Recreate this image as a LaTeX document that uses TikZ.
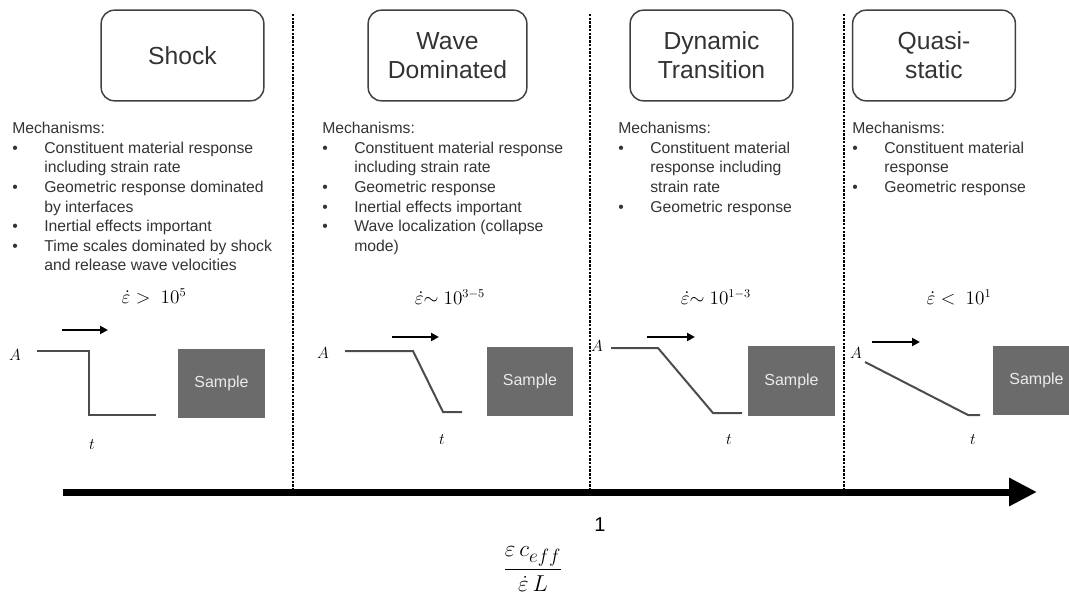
\documentclass[tikz,border=0pt]{standalone}
\usepackage{amsmath,amssymb}
\usepackage{fontspec}
\setmainfont{Liberation Sans}
\usepackage{tikz}
\usetikzlibrary{arrows.meta, positioning}

\newcommand{\bul}{\makebox[24pt][l]{\textbullet}}
\newcommand{\ind}{\hspace*{24pt}}

\begin{document}
\begin{tikzpicture}[
  x=0.75pt, y=-0.75pt,
  hbox/.style={rectangle, draw=black!75, line width=1.1pt, rounded corners=10pt,
    minimum width=122pt, minimum height=68pt, align=center,
    font=\fontsize{18.5}{22}\selectfont, text=black!80},
  mech/.style={anchor=north west, inner sep=0pt, align=left,
    font=\fontsize{11.8}{14.7}\selectfont, text=black!80},
  rate/.style={font=\fontsize{13.5}{16}\selectfont},
  smp/.style={rectangle, fill=black!58, minimum width=65pt, minimum height=52pt,
    text=black!8, font=\fontsize{12}{14}\selectfont},
  lbl/.style={font=\fontsize{11.5}{13}\selectfont},
  pulse/.style={draw=black!70, line width=1.5pt},
  arr/.style={-{Triangle[length=6pt,width=6pt]}, line width=2pt},
  sep/.style={dash pattern=on 1.8pt off 1pt, line width=1.1pt},
  axisarr/.style={-{Triangle[length=21pt,width=20pt]}, line width=5.25pt}
]
\clip (0,0) rectangle (1069,598);

% regime headers
\node[hbox] (shock) at (182.5,55.5) {Shock};
\node[hbox, minimum width=119pt] (wave) at (447.5,55.5) {Wave\\Dominated};
\node[hbox] (dyn) at (711.5,55.5) {Dynamic\\Transition};
\node[hbox] (quasi) at (934,55.5) {Quasi-\\static};

% mechanisms
\node[mech] (shock-m) at (12,122) {Mechanisms:\\
  \bul Constituent material response\\ \ind including strain rate\\
  \bul Geometric response dominated\\ \ind by interfaces\\
  \bul Inertial effects important\\
  \bul Time scales dominated by shock\\ \ind and release wave velocities};
\node[mech] (wave-m) at (322,122) {Mechanisms:\\
  \bul Constituent material response\\ \ind including strain rate\\
  \bul Geometric response\\
  \bul Inertial effects important\\
  \bul Wave localization (collapse\\ \ind mode)};
\node[mech] (dyn-m) at (618,122) {Mechanisms:\\
  \bul Constituent material\\ \ind response including\\ \ind strain rate\\
  \bul Geometric response};
\node[mech] (quasi-m) at (852,122) {Mechanisms:\\
  \bul Constituent material\\ \ind response\\
  \bul Geometric response};

% strain rates
\node[rate] (shock-r) at (154,296) {$\dot{\varepsilon} >\ 10^{5}$};
\node[rate] (wave-r) at (450,297) {$\dot{\varepsilon}{\sim}\ 10^{3-5}$};
\node[rate] (dyn-r) at (716,297) {$\dot{\varepsilon}{\sim}\ 10^{1-3}$};
\node[rate] (quasi-r) at (959,297) {$\dot{\varepsilon} <\ 10^{1}$};

% loading pulses
\coordinate (shock-a0) at (62,330);  \coordinate (shock-a1) at (108,330);
\coordinate (wave-a0) at (392,337);  \coordinate (wave-a1) at (439,337);
\coordinate (dyn-a0) at (647,337);   \coordinate (dyn-a1) at (695,337);
\coordinate (quasi-a0) at (872,342); \coordinate (quasi-a1) at (920,342);
\draw[arr] (shock-a0)--(shock-a1); \draw[arr] (wave-a0)--(wave-a1);
\draw[arr] (dyn-a0)--(dyn-a1);     \draw[arr] (quasi-a0)--(quasi-a1);

\draw[pulse] (37,351) -- (89,351) -- (89,415) -- (156,415);
\draw[pulse] (345,351) -- (413,351) -- (443,412) -- (462,412);
\draw[pulse] (611,348) -- (658,348) -- (713,413) -- (742,413);
\draw[pulse] (865,362) -- (968,415) -- (980,415);

\node[lbl] (shock-A) at (15,355) {$A$};  \node[lbl] (shock-t) at (92,445) {$t$};
\node[lbl] (wave-A) at (323,353) {$A$};  \node[lbl] (wave-t) at (442,440) {$t$};
\node[lbl] (dyn-A) at (597,346) {$A$};   \node[lbl] (dyn-t) at (729,440) {$t$};
\node[lbl] (quasi-A) at (856,353) {$A$}; \node[lbl] (quasi-t) at (973,440) {$t$};

\node[smp] (shock-s) at (221.5,383.5) {Sample};
\node[smp] (wave-s) at (530,381.5) {Sample};
\node[smp] (dyn-s) at (791.5,381) {Sample};
\node[smp] (quasi-s) at (1036.5,380.5) {Sample};

% axis and regime borders
\coordinate (ax0) at (63,492);
\coordinate (ax1) at (1037,492);
\foreach \x [count=\i] in {293,590,844}
  \draw[sep] (\x,14) coordinate (b\i) -- (b\i |- ax0);
\draw[axisarr] (ax0) -- (ax1);

\node[font=\fontsize{15}{18}\selectfont] (one) at (600,525) {1};
\node[font=\fontsize{19}{22}\selectfont] (ratio) at (533,569)
  {$\dfrac{\varepsilon\, c_{eff}}{\dot{\varepsilon}\, L}$};
\end{tikzpicture}
\end{document}
